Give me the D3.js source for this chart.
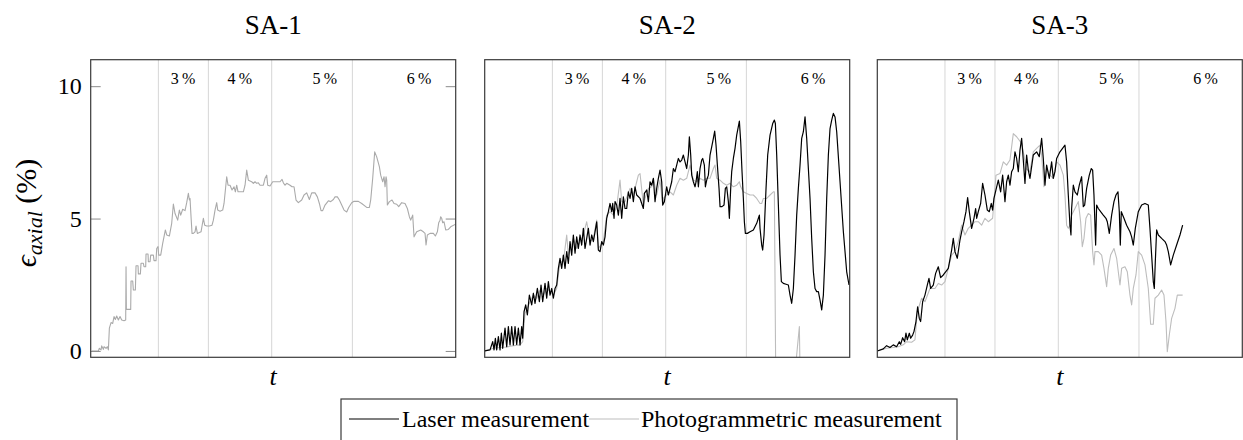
<!DOCTYPE html>
<html>
<head>
<meta charset="utf-8">
<script src="https://cdn.jsdelivr.net/npm/d3@7"></script>
<style>
  html, body { margin: 0; padding: 0; background: #fff; }
  svg { display: block; }
  text { font-family: "Liberation Serif", "DejaVu Serif", serif; fill: #000; }
</style>
</head>
<body>
<svg id="chart" width="1243" height="440"></svg>
<script>
// ---- data -------------------------------------------------------------
// time in recording frames, strain in %
const specimens = ["SA-1", "SA-2", "SA-3"];
const stageBounds = [203, 353, 543, 785];
const stageLabels = ["3\u2009%", "4\u2009%", "5\u2009%", "6\u2009%"];
const stageLabelT = [277, 447, 702, 985];
const yTicks = [0, 5, 10];
const tDomain = [0, 1095];
const yDomain = [-0.24, 11];

const sa1Photo = [[3,0],[23,0],[26,0.10],[31,0.04],[33,0.19],[38,0.06],[40,0.16],[46,0.10],[50,0.16],[53,0.04],[56,0.86],[61,1.07],[66,1.04],[70,1.30],[74,1.19],[78,1.32],[83,1.17],[88,1.30],[93,1.17],[100,1.14],[105,1.17],[106,3.18],[107,1.57],[120,1.57],[121,2.64],[126,2.64],[128,2.30],[134,2.30],[136,3.22],[142,3.22],[143,2.91],[149,2.91],[151,3.31],[158,3.31],[160,3.18],[165,3.18],[166,3.66],[172,3.66],[173,3.37],[178,3.37],[180,3.62],[188,3.62],[190,3.41],[196,3.41],[198,3.87],[202,3.94],[204,3.62],[210,3.62],[216,4.06],[224,4.57],[228,4.38],[236,4.34],[243,4.82],[248,5.55],[253,5.19],[261,4.94],[266,5.32],[270,5.13],[276,5.35],[283,5.30],[288,5.60],[293,5.95],[296,5.70],[298,5.76],[301,5.07],[304,4.44],[308,4.44],[313,4.50],[316,4.72],[320,4.44],[326,4.47],[331,4.50],[334,4.72],[338,5.01],[342,4.75],[348,4.72],[356,4.72],[364,4.75],[368,4.94],[373,5.32],[378,5.60],[381,5.32],[388,5.28],[396,5.32],[400,5.57],[408,6.58],[412,6.26],[418,6.26],[424,6.08],[430,6.20],[434,6.01],[438,6.26],[442,6.01],[458,6.01],[463,6.26],[468,6.83],[473,6.45],[483,6.39],[488,6.33],[493,6.39],[498,6.33],[503,6.35],[508,6.26],[518,6.26],[523,6.52],[528,6.64],[531,6.26],[538,6.23],[546,6.39],[558,6.39],[568,6.39],[574,6.48],[578,6.35],[583,6.26],[588,6.33],[598,6.26],[604,6.20],[610,6.20],[616,5.70],[623,5.60],[633,5.70],[640,5.89],[648,5.97],[656,5.72],[663,5.97],[673,5.97],[680,5.82],[686,5.57],[691,5.30],[696,5.30],[703,5.51],[713,5.67],[720,5.64],[728,5.72],[733,5.82],[740,5.82],[746,5.70],[753,5.51],[760,5.32],[768,5.25],[774,5.42],[783,5.60],[790,5.65],[803,5.65],[813,5.57],[828,5.42],[836,5.42],[840,5.70],[846,6.52],[852,7.52],[858,7.33],[866,6.96],[870,6.64],[876,6.39],[880,6.58],[883,6.20],[886,6.58],[888,6.45],[890,5.51],[896,5.64],[904,5.70],[910,5.57],[918,5.54],[924,5.45],[933,5.60],[943,5.57],[950,5.38],[956,5.07],[960,4.94],[966,5.13],[970,4.31],[978,4.50],[990,4.57],[998,4.50],[1003,4.44],[1006,4.00],[1010,4.38],[1018,4.44],[1028,4.44],[1034,4.34],[1040,4.50],[1044,4.84],[1048,4.94],[1050,5.07],[1053,5.01],[1056,4.84],[1060,4.88],[1065,4.57],[1073,4.59],[1080,4.69],[1095,4.79]];

const sa2Laser = [[0,0],[16,0.04],[24,0.35],[28,0.04],[32,0.48],[36,0.04],[41,0.54],[46,0.04],[50,0.67],[54,0.10],[61,0.86],[66,0.16],[71,0.92],[76,0.23],[81,0.92],[86,0.23],[91,0.92],[96,0.25],[101,0.86],[106,0.23],[111,0.92],[114,0.48],[118,1.48],[123,1.74],[128,1.36],[134,2.11],[141,1.74],[146,2.18],[151,1.80],[158,2.36],[164,1.86],[169,2.49],[174,1.86],[181,2.55],[186,1.99],[191,2.62],[196,2.11],[201,2.36],[206,1.99],[211,2.36],[216,2.49],[221,3.12],[226,3.50],[231,3.12],[236,3.62],[241,3.12],[246,3.75],[251,3.31],[256,4.13],[261,3.62],[266,4.38],[271,3.69],[276,4.31],[281,3.87],[286,4.38],[291,4.00],[296,4.63],[301,3.87],[306,4.25],[311,4.63],[316,4.00],[321,4.38],[326,4.13],[331,4.50],[336,4.88],[341,3.81],[346,3.75],[351,4.13],[356,4.00],[361,4.31],[366,5.01],[371,5.26],[376,5.57],[381,5.26],[384,5.57],[388,5.01],[391,5.64],[396,5.51],[401,5.13],[406,5.76],[411,5.01],[416,5.82],[421,5.38],[426,5.38],[431,6.01],[436,5.76],[441,6.14],[446,5.64],[451,6.20],[456,5.89],[466,5.76],[476,5.38],[479,5.95],[486,6.08],[491,5.64],[496,6.39],[501,6.26],[506,6.52],[511,5.64],[516,6.14],[521,6.52],[526,6.83],[531,6.39],[534,5.51],[539,5.64],[546,6.20],[551,5.89],[556,6.14],[561,6.39],[566,6.89],[571,6.77],[576,7.02],[581,7.27],[586,7.14],[591,7.21],[596,7.40],[601,7.14],[606,6.89],[611,7.40],[614,8.09],[618,7.40],[621,6.64],[626,6.39],[631,6.20],[634,6.39],[638,6.77],[641,6.20],[646,6.89],[651,7.21],[654,7.27],[659,7.02],[662,6.20],[666,6.45],[671,6.64],[676,7.40],[681,7.71],[686,8.03],[690,8.30],[694,7.77],[698,7.02],[703,6.14],[706,5.45],[712,5.45],[718,5.51],[722,6.14],[726,6.20],[731,5.64],[734,5.01],[738,6.14],[741,6.77],[746,7.27],[751,7.65],[756,8.15],[764,8.68],[768,7.90],[772,6.77],[776,5.76],[779,4.88],[782,4.44],[788,4.44],[796,4.50],[806,4.57],[816,4.82],[821,5.01],[824,5.13],[826,4.63],[831,4.00],[834,3.81],[838,4.38],[844,6.14],[849,7.40],[856,8.15],[864,8.59],[869,8.72],[872,8.59],[876,7.40],[881,5.51],[886,3.62],[890,2.62],[896,2.55],[904,2.52],[911,2.49],[916,2.11],[921,1.80],[926,2.36],[931,3.62],[936,5.13],[941,6.14],[946,7.02],[951,8.03],[956,8.28],[961,8.84],[966,8.03],[971,6.89],[976,5.76],[981,4.25],[986,2.99],[991,2.36],[996,2.24],[1001,2.24],[1006,1.92],[1011,1.55],[1016,2.11],[1021,3.62],[1026,5.76],[1031,7.40],[1036,8.40],[1041,8.72],[1046,8.97],[1051,8.84],[1056,8.28],[1066,6.39],[1076,4.50],[1086,2.99],[1093,2.49]];

const sa2Photo = [[0,0],[26,0.10],[46,0.13],[66,0.15],[86,0.20],[106,0.23],[114,0.35],[121,1.42],[136,1.86],[146,2.11],[156,1.99],[166,2.30],[176,2.11],[186,2.36],[196,2.24],[206,2.11],[216,2.36],[226,3.37],[236,3.37],[246,4.38],[251,3.62],[266,4.25],[276,3.87],[286,4.13],[296,4.38],[306,4.88],[316,4.13],[326,4.25],[336,4.94],[341,3.87],[356,4.13],[366,5.13],[376,5.26],[386,5.13],[396,5.45],[406,6.45],[411,5.64],[421,5.64],[436,6.14],[446,5.89],[461,6.64],[466,6.70],[476,5.51],[481,5.76],[491,6.14],[501,6.20],[506,6.52],[516,5.89],[526,6.45],[534,5.51],[536,5.76],[546,5.89],[556,6.01],[566,5.89],[576,6.26],[586,6.52],[596,6.45],[606,6.52],[616,7.02],[626,6.45],[636,6.39],[646,6.52],[656,6.45],[666,6.52],[676,6.52],[686,6.89],[691,7.02],[696,6.52],[706,6.45],[716,6.33],[726,6.26],[736,6.33],[746,6.20],[756,6.26],[764,6.39],[768,6.20],[776,6.01],[786,5.95],[796,5.89],[806,5.89],[816,5.76],[826,5.57],[831,5.57],[836,5.76],[846,5.76],[856,5.89],[866,6.01],[869,6.01],[873,-0.8],[931,-0.8],[944,0.92],[946,-0.8]];

const sa3Laser = [[0,0],[18,0.08],[28,0.20],[38,0.13],[48,0.23],[58,0.16],[66,0.35],[70,0.25],[76,0.50],[82,0.35],[86,0.67],[90,0.42],[96,0.67],[100,0.48],[106,0.60],[110,0.73],[116,1.11],[121,1.67],[126,1.23],[130,1.11],[136,1.86],[143,2.11],[150,2.49],[155,2.74],[160,2.36],[168,2.49],[175,2.93],[183,3.18],[190,2.77],[198,2.87],[205,2.99],[213,3.12],[223,3.81],[228,4.25],[233,3.75],[240,3.50],[248,4.19],[253,4.50],[260,4.88],[266,5.26],[271,5.79],[276,5.26],[283,4.63],[290,5.01],[295,5.38],[298,5.01],[303,5.26],[310,5.57],[316,6.33],[323,5.89],[330,5.32],[336,5.26],[342,5.57],[346,5.32],[350,5.76],[356,6.08],[363,6.45],[370,6.01],[376,6.64],[380,6.08],[383,5.64],[388,6.39],[393,6.64],[398,6.26],[403,6.77],[408,6.89],[413,7.52],[418,7.27],[423,6.77],[428,7.58],[433,8.03],[438,7.21],[443,6.33],[448,7.40],[453,6.83],[458,6.52],[468,7.40],[478,7.52],[486,7.34],[493,8.03],[498,7.27],[503,6.26],[508,7.02],[516,6.52],[523,7.14],[528,6.52],[533,6.77],[538,7.27],[548,7.52],[563,7.77],[568,7.14],[573,5.89],[578,4.75],[581,4.38],[583,5.38],[588,6.26],[593,6.01],[600,5.89],[606,6.26],[613,6.58],[618,5.45],[622,5.51],[628,6.14],[636,6.64],[642,6.89],[646,6.83],[650,5.89],[655,4.00],[658,5.51],[663,5.38],[670,5.26],[678,5.13],[686,5.01],[690,4.88],[696,4.44],[703,5.13],[710,5.64],[716,5.89],[722,6.01],[726,5.26],[729,4.00],[732,5.26],[740,5.01],[748,4.75],[758,4.50],[763,4.31],[768,4.00],[774,4.63],[783,5.26],[793,5.51],[803,5.57],[813,5.51],[818,4.63],[823,3.62],[828,2.62],[831,2.36],[834,3.37],[838,4.57],[843,4.38],[853,4.25],[863,4.13],[868,4.00],[873,3.75],[880,3.25],[888,3.62],[898,4.00],[908,4.38],[916,4.75]];

const sa3Photo = [[0,0],[28,0.10],[48,0.13],[63,0.16],[78,0.23],[88,0.35],[103,0.33],[113,0.42],[120,1.48],[133,1.99],[143,1.86],[158,2.36],[173,2.36],[183,2.55],[193,2.49],[203,2.62],[213,3.12],[223,3.62],[233,3.75],[243,4.13],[253,4.75],[263,4.38],[273,4.63],[283,4.75],[293,4.88],[303,4.88],[313,4.75],[323,5.01],[333,4.88],[346,5.01],[356,6.64],[368,6.70],[378,7.14],[388,7.02],[398,7.21],[408,8.21],[418,8.09],[433,7.84],[440,7.40],[446,6.89],[458,6.77],[468,7.52],[478,7.65],[488,7.77],[493,7.40],[500,6.20],[508,6.89],[518,6.64],[528,6.52],[538,7.14],[548,7.02],[558,6.64],[563,5.89],[568,4.75],[573,4.63],[578,4.75],[583,5.13],[593,5.38],[603,5.64],[610,4.88],[615,3.94],[620,4.25],[626,5.01],[633,5.19],[640,5.13],[646,3.75],[650,3.25],[653,3.75],[663,3.75],[673,3.62],[680,3.12],[688,2.43],[693,3.12],[700,3.62],[710,3.87],[718,3.50],[723,2.99],[728,2.49],[733,3.12],[743,3.18],[750,2.99],[758,2.11],[763,1.74],[768,2.36],[776,2.87],[783,3.75],[793,3.62],[803,3.25],[813,2.36],[820,1.01],[828,1.01],[833,1.99],[843,2.11],[853,2.30],[860,2.11],[866,1.11],[870,-0.03],[876,0.60],[883,1.23],[893,1.61],[900,2.11],[916,2.11]];

const laserSeries = [null, sa2Laser, sa3Laser];
const photoSeries = [sa1Photo, sa2Photo, sa3Photo];
const legendLabels = ["Laser measurement", "Photogrammetric measurement"];
const seriesColors = ["#000000", "#bdbdbd"];

// ---- layout -----------------------------------------------------------
const panelLeft = [90.7, 484.7, 877.3];
const panelTop = 59.7;
const panelW = 365;
const panelH = 297.6;

const svg = d3.select("#chart");
const x = d3.scaleLinear().domain(tDomain).range([0, panelW]);
const y = d3.scaleLinear().domain(yDomain).range([panelH, 0]);
const line = d3.line().x(d => x(d[0])).y(d => y(d[1]));

specimens.forEach((name, i) => {
  const g = svg.append("g").attr("transform", `translate(${panelLeft[i]},${panelTop})`);

  g.append("clipPath").attr("id", `clip${i}`)
    .append("rect").attr("width", panelW).attr("height", panelH);

  // loading stage separators
  g.selectAll("line.stage").data(stageBounds).join("line")
    .attr("x1", d => x(d)).attr("x2", d => x(d))
    .attr("y1", 0).attr("y2", panelH)
    .attr("stroke", "#d6d6d6").attr("stroke-width", 1);

  g.selectAll("text.stage").data(stageLabels).join("text")
    .attr("x", (d, k) => x(stageLabelT[k]))
    .attr("y", 24)
    .attr("text-anchor", "middle")
    .style("font-size", "16px")
    .text(d => d);

  const plot = g.append("g").attr("clip-path", `url(#clip${i})`);
  plot.append("path").datum(photoSeries[i])
    .attr("d", line).attr("fill", "none")
    .attr("stroke", i === 0 ? "#aaaaaa" : seriesColors[1]).attr("stroke-width", 1.1)
    .attr("stroke-linejoin", "round");
  if (laserSeries[i]) {
    plot.append("path").datum(laserSeries[i])
      .attr("d", line).attr("fill", "none")
      .attr("stroke", seriesColors[0]).attr("stroke-width", 1.2)
      .attr("stroke-linejoin", "round");
  }

  // y ticks only on the first panel (inside, both sides)
  if (i === 0) {
    const left = d3.axisLeft(y).tickValues(yTicks).tickSize(-10).tickPadding(9).tickFormat(d3.format("d"));
    const ga = g.append("g").call(left);
    ga.select(".domain").remove();
    ga.selectAll(".tick line").attr("stroke", "#8c8c8c");
    ga.selectAll(".tick text").style("font-size", "24px").style("font-family", "Liberation Serif").attr("fill", "#000");
    const right = d3.axisRight(y).tickValues(yTicks).tickSize(-10).tickFormat("");
    const gr = g.append("g").attr("transform", `translate(${panelW},0)`).call(right);
    gr.select(".domain").remove();
    gr.selectAll(".tick line").attr("stroke", "#8c8c8c");
  }

  // frame
  g.append("rect").attr("width", panelW).attr("height", panelH)
    .attr("fill", "none").attr("stroke", "#3a3a3a").attr("stroke-width", 1.2);

  // title and x label
  g.append("text").attr("x", panelW / 2).attr("y", -26)
    .attr("text-anchor", "middle").style("font-size", "27px").text(name);
  g.append("text").attr("x", panelW / 2).attr("y", panelH + 28)
    .attr("text-anchor", "middle").style("font-size", "26px").style("font-style", "italic").text("t");
});

// y axis label
const yl = svg.append("text")
  .attr("transform", "translate(36,213) rotate(-90)")
  .attr("text-anchor", "middle").style("font-size", "30px");
yl.append("tspan").style("font-style", "italic").text("\u03F5");
yl.append("tspan").style("font-style", "italic").style("font-size", "22px").attr("dy", 6).text("axial");
yl.append("tspan").attr("dy", -6).text(" (%)");

// legend
const lg = svg.append("g");
lg.append("rect").attr("x", 341).attr("y", 399).attr("width", 616).attr("height", 60)
  .attr("fill", "#fff").attr("stroke", "#3a3a3a").attr("stroke-width", 1.2);
const legendX = [349, 589];
const legendTextX = [402, 641];
legendLabels.forEach((lab, k) => {
  lg.append("line").attr("x1", legendX[k]).attr("x2", legendX[k] + 50)
    .attr("y1", 419).attr("y2", 419)
    .attr("stroke", seriesColors[k]).attr("stroke-width", k === 0 ? 1.2 : 1.1);
  lg.append("text").attr("x", legendTextX[k]).attr("y", 427)
    .style("font-size", "24px").text(lab);
});
</script>
</body>
</html>
